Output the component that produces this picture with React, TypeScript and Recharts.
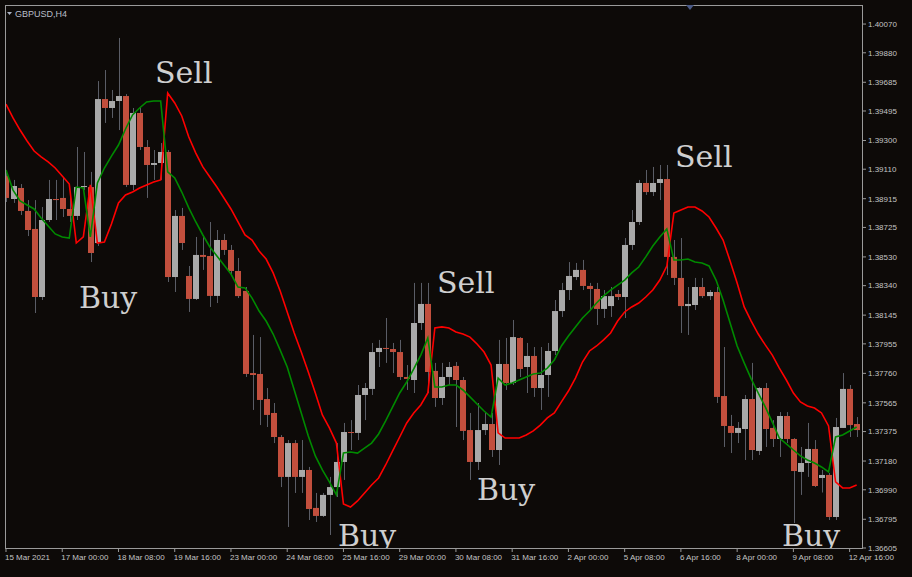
import React from "react";
import { ComposedChart, Bar, Line, XAxis, YAxis } from "recharts";

// GBPUSD H4, one entry per bar
const opens = [
  1.39065, 1.38913, 1.38986, 1.38834, 1.38715, 1.38265, 1.38774, 1.38913, 1.3892, 1.38847,
  1.38801, 1.38992, 1.38992, 1.38622, 1.39574, 1.39515, 1.39561, 1.39594, 1.39006, 1.39482,
  1.39257, 1.39138, 1.39151, 1.39224, 1.38397, 1.38801, 1.38404, 1.38252, 1.38543, 1.38536,
  1.38272, 1.38642, 1.38576, 1.38437, 1.38305, 1.37762, 1.37756, 1.3759, 1.37498, 1.37339,
  1.37075, 1.37299, 1.37075, 1.37121, 1.3687, 1.36817, 1.36956, 1.37008, 1.37174, 1.37372,
  1.37366, 1.37617, 1.37657, 1.37901, 1.37928, 1.37921, 1.37901, 1.37736, 1.37716, 1.38093,
  1.38219, 1.37776, 1.37597, 1.37736, 1.37809, 1.37716, 1.37385, 1.37174, 1.37385, 1.37425,
  1.37253, 1.37822, 1.37696, 1.37994, 1.37802, 1.37875, 1.37663, 1.37749, 1.37908, 1.38172,
  1.38311, 1.38397, 1.38444, 1.38338, 1.38318, 1.38186, 1.38205, 1.38285, 1.38265, 1.38609,
  1.38761, 1.39019, 1.38959, 1.39019, 1.39045, 1.3853, 1.38391, 1.38205, 1.38212, 1.38331,
  1.38271, 1.38298, 1.3761, 1.37412, 1.37366, 1.37392, 1.3759, 1.37247, 1.37663, 1.37399,
  1.37326, 1.37478, 1.37326, 1.37108, 1.37167, 1.3726, 1.37068, 1.37088, 1.3681, 1.37399,
  1.37657, 1.37425,
];
const highs = [
  1.39105, 1.39039, 1.39012, 1.38906, 1.38906, 1.3886, 1.39039, 1.39039, 1.39052, 1.38953,
  1.39257, 1.39224, 1.39092, 1.39693, 1.39766, 1.39634, 1.39978, 1.39607, 1.39515, 1.39521,
  1.39303, 1.39237, 1.39283, 1.39237, 1.3884, 1.38854, 1.3847, 1.38662, 1.38662, 1.38761,
  1.38708, 1.38682, 1.38609, 1.38523, 1.38331, 1.38014, 1.38, 1.37663, 1.37564, 1.37352,
  1.37319, 1.37319, 1.37319, 1.37141, 1.36969, 1.36969, 1.37075, 1.37299, 1.37432, 1.37451,
  1.37683, 1.37696, 1.37961, 1.37981, 1.38126, 1.37961, 1.37981, 1.37815, 1.38358, 1.38358,
  1.38358, 1.37829, 1.37829, 1.37835, 1.37835, 1.37736, 1.37498, 1.37564, 1.37498, 1.37498,
  1.37981, 1.37994, 1.38113, 1.38, 1.37961, 1.37934, 1.37934, 1.37961, 1.38245, 1.38358,
  1.38496, 1.3849, 1.3851, 1.38358, 1.38358, 1.38311, 1.38331, 1.38311, 1.38655, 1.3884,
  1.39039, 1.39105, 1.39125, 1.39138, 1.39138, 1.38642, 1.38655, 1.38331, 1.38391, 1.38391,
  1.38311, 1.38331, 1.37934, 1.37485, 1.37438, 1.37617, 1.37829, 1.3767, 1.37696, 1.37451,
  1.37504, 1.37504, 1.37332, 1.37273, 1.37432, 1.37319, 1.37121, 1.37101, 1.37465, 1.37762,
  1.37683, 1.37471,
];
const lows = [
  1.38893, 1.38887, 1.38807, 1.38668, 1.38159, 1.38245, 1.38761, 1.38774, 1.38794, 1.38761,
  1.38774, 1.38972, 1.38496, 1.38602, 1.39416, 1.39449, 1.39369, 1.38992, 1.38972, 1.39237,
  1.3892, 1.39039, 1.39039, 1.38364, 1.38298, 1.38576, 1.38166, 1.38245, 1.38444, 1.38199,
  1.38225, 1.38543, 1.3841, 1.38258, 1.37736, 1.37518, 1.37418, 1.37405, 1.37299, 1.37008,
  1.36744, 1.36969, 1.36969, 1.3679, 1.36777, 1.3681, 1.36691, 1.36942, 1.37055, 1.37253,
  1.37319, 1.37451, 1.37617, 1.37802, 1.37829, 1.37762, 1.37716, 1.3765, 1.3763, 1.38047,
  1.3763, 1.37538, 1.37551, 1.37683, 1.37405, 1.37319, 1.37055, 1.37121, 1.37352, 1.37207,
  1.37154, 1.3765, 1.37683, 1.37736, 1.3763, 1.37604, 1.37518, 1.37604, 1.37881, 1.38133,
  1.38245, 1.38377, 1.38311, 1.38179, 1.3808, 1.38126, 1.38133, 1.38245, 1.38126, 1.38576,
  1.38741, 1.3894, 1.38933, 1.38906, 1.3841, 1.38344, 1.38027, 1.38014, 1.38179, 1.38258,
  1.38245, 1.37564, 1.37273, 1.37233, 1.37299, 1.37187, 1.37187, 1.3722, 1.37273, 1.37273,
  1.37207, 1.37299, 1.3677, 1.36956, 1.37075, 1.37008, 1.36972, 1.3679, 1.3679, 1.37399,
  1.37339, 1.37339,
];
const closes = [
  1.3892, 1.38999, 1.38834, 1.38708, 1.38265, 1.38774, 1.38913, 1.38906, 1.38847, 1.38801,
  1.38992, 1.38999, 1.38556, 1.39574, 1.39515, 1.39561, 1.39594, 1.39006, 1.39482, 1.39257,
  1.39138, 1.39151, 1.39224, 1.38397, 1.38801, 1.38622, 1.38252, 1.38543, 1.3853, 1.38272,
  1.38642, 1.38576, 1.38437, 1.38271, 1.37756, 1.37749, 1.37584, 1.37485, 1.37339, 1.37075,
  1.37299, 1.37075, 1.37121, 1.36863, 1.36817, 1.36956, 1.37008, 1.37174, 1.37372, 1.37366,
  1.37617, 1.37663, 1.37901, 1.37928, 1.37921, 1.37901, 1.37736, 1.37723, 1.38093, 1.38219,
  1.37769, 1.37597, 1.37736, 1.37802, 1.37716, 1.37379, 1.37174, 1.37385, 1.37425, 1.37253,
  1.37822, 1.37696, 1.38, 1.37789, 1.37875, 1.37663, 1.37749, 1.37908, 1.38172, 1.38311,
  1.38404, 1.38444, 1.38338, 1.38318, 1.38186, 1.38271, 1.38271, 1.38265, 1.38609, 1.38761,
  1.39019, 1.38959, 1.39019, 1.39045, 1.3853, 1.38391, 1.38205, 1.38219, 1.38331, 1.38271,
  1.38298, 1.37604, 1.37412, 1.37366, 1.37399, 1.3759, 1.37253, 1.37663, 1.37392, 1.37326,
  1.37478, 1.37326, 1.37114, 1.37167, 1.3726, 1.37015, 1.37088, 1.3681, 1.37405, 1.37657,
  1.37418, 1.37385,
];

// red trailing band (flips above/below price)
const trailLine = [
  1.39541, 1.39449, 1.39369, 1.39297, 1.3923, 1.39191, 1.39158, 1.39118, 1.39065, 1.39012,
  1.38622, 1.38662, 1.39006, 1.38622, 1.38629, 1.38748, 1.38887, 1.3894, 1.38959, 1.38986,
  1.39006, 1.39025, 1.39039, 1.39614, 1.39548, 1.39462, 1.39323, 1.39217, 1.39125, 1.39058,
  1.38992, 1.3892, 1.38847, 1.38761, 1.38675, 1.38642, 1.38569, 1.38516, 1.38424, 1.38305,
  1.38166, 1.38027, 1.37901, 1.37769, 1.3763, 1.37485, 1.37399, 1.37299, 1.36896, 1.36876,
  1.36916, 1.36969, 1.37022, 1.37068, 1.37154, 1.37247, 1.37339, 1.37432, 1.37498, 1.37551,
  1.3763, 1.3806, 1.38067, 1.3806, 1.38034, 1.3802, 1.38, 1.37954, 1.37901, 1.37815,
  1.37366, 1.37332, 1.37332, 1.37332, 1.37352, 1.37379, 1.37418, 1.37465, 1.37498, 1.37571,
  1.37643, 1.37729, 1.37835, 1.37908, 1.37941, 1.37981, 1.38027, 1.38106, 1.38166, 1.38199,
  1.38225, 1.38265, 1.38311, 1.38377, 1.3847, 1.3882, 1.3884, 1.3886, 1.3886, 1.38834,
  1.38794, 1.38721, 1.38642, 1.38503, 1.38358, 1.38199, 1.38106, 1.3802, 1.37948, 1.37881,
  1.37795, 1.37716, 1.3763, 1.37571, 1.37544, 1.37531, 1.37498, 1.37412, 1.37042, 1.37002,
  1.37002, 1.37022,
];

// green moving average
const maLine = [
  1.39105, 1.38972, 1.389, 1.38873, 1.38847, 1.38787, 1.38735, 1.38682, 1.38662, 1.38655,
  1.38992, 1.38986, 1.38662, 1.39019, 1.39118, 1.39197, 1.3927, 1.39376, 1.39469, 1.39515,
  1.39555, 1.39561, 1.39561, 1.39092, 1.39052, 1.38959, 1.38854, 1.38761, 1.38675, 1.38596,
  1.38536, 1.38477, 1.38417, 1.38331, 1.38325, 1.38258, 1.38172, 1.38106, 1.3802, 1.37914,
  1.37802, 1.3765, 1.37498, 1.37346, 1.37214, 1.37121, 1.37042, 1.36956, 1.37233, 1.3724,
  1.37233, 1.37266, 1.37299, 1.37359, 1.37445, 1.37538, 1.3763, 1.37703, 1.37789, 1.37881,
  1.37994, 1.3767, 1.3767, 1.37683, 1.37683, 1.3765, 1.37604, 1.37557, 1.37511, 1.37471,
  1.37729, 1.37683, 1.37696, 1.37716, 1.37736, 1.37756, 1.37762, 1.37795, 1.37848, 1.37941,
  1.38007, 1.38067, 1.38126, 1.38172, 1.38225, 1.38272, 1.38311, 1.38344, 1.38377, 1.38424,
  1.38463, 1.3853, 1.38602, 1.38662, 1.38715, 1.3851, 1.3851, 1.38516, 1.38496, 1.3849,
  1.3847, 1.38377, 1.38245, 1.38093, 1.37941, 1.37829, 1.37723, 1.3763, 1.37538, 1.37438,
  1.37332, 1.37293, 1.37253, 1.37214, 1.37187, 1.37167, 1.37141, 1.37108, 1.37339, 1.37352,
  1.37379, 1.37405,
];

const xTickBars = [0, 8, 16, 24, 32, 40, 48, 56, 64, 72, 80, 88, 96, 104, 112, 120];
const xTickLabels = [
  "15 Mar 2021", "17 Mar 00:00", "18 Mar 08:00", "19 Mar 16:00", "23 Mar 00:00",
  "24 Mar 08:00", "25 Mar 16:00", "29 Mar 00:00", "30 Mar 08:00", "31 Mar 16:00",
  "2 Apr 00:00", "5 Apr 08:00", "6 Apr 16:00", "8 Apr 00:00", "9 Apr 08:00", "12 Apr 16:00",
];
const yTicks = [
  1.36605, 1.36795, 1.3699, 1.3718, 1.37375, 1.37565, 1.3776, 1.37955, 1.38145, 1.3834,
  1.3853, 1.38725, 1.38915, 1.3911, 1.393, 1.39495, 1.39685, 1.3988, 1.4007,
];

// annotations drawn on the plot (pixel positions of the text baseline)
const signals = [
  { text: "Sell", x: 155, y: 83 },
  { text: "Buy", x: 79, y: 308 },
  { text: "Sell", x: 437, y: 293 },
  { text: "Buy", x: 477, y: 500 },
  { text: "Sell", x: 675, y: 167 },
  { text: "Buy", x: 338, y: 546 },
  { text: "Buy", x: 782, y: 546 },
];

const BG = "#0d0a08";
const BULL = "#a9a9a9";
const BEAR = "#c24f3d";
const WICK = "#5a5d66";
const FRAME = "#9a9a9a";
const AXIS_TEXT = "#c4c4c4";

const data = opens.map((o, i) => ({
  i,
  o,
  h: highs[i],
  l: lows[i],
  c: closes[i],
  range: [lows[i], highs[i]],
  trail: trailLine[i],
  ma: maLine[i],
}));

function Candle(props: any) {
  const { x, y, width, height, payload } = props;
  if (!payload || height == null) return null;
  const { o, h, l, c } = payload;
  const span = h - l || 1e-9;
  const toY = (p: number) => y + ((h - p) / span) * height;
  const cx = Math.round(x + width / 2) + 0.5;
  const top = toY(Math.max(o, c));
  const bot = toY(Math.min(o, c));
  return (
    <g>
      <line x1={cx} x2={cx} y1={y} y2={y + height} stroke={WICK} strokeWidth={1} />
      <rect
        x={Math.round(x)}
        y={top}
        width={width}
        height={Math.max(1, bot - top)}
        fill={c >= o ? BULL : BEAR}
      />
    </g>
  );
}

function TimeTick(props: any) {
  const { x, y, payload } = props;
  const idx = xTickBars.indexOf(payload.value);
  return (
    <text
      x={x - 1}
      y={y}
      dy="0.75em"
      fill={AXIS_TEXT}
      fontSize={8}
      fontFamily="Liberation Sans, Arial, sans-serif"
      textAnchor="start"
    >
      {idx >= 0 ? xTickLabels[idx] : ""}
    </text>
  );
}

export default function App() {
  return (
    <div style={{ position: "absolute", left: 0, top: 0, width: 912, height: 577, background: BG, overflow: "hidden" }}>
      <ComposedChart
        width={912}
        height={577}
        data={data}
        margin={{ top: 5, right: 0, bottom: 0, left: 5 }}
      >
        <XAxis
          dataKey="i"
          type="number"
          domain={[-0.142, 121.76]}
          allowDataOverflow
          ticks={xTickBars}
          interval={0}
          height={29}
          axisLine={false}
          tickLine={{ stroke: FRAME }}
          tickSize={4}
          tick={<TimeTick />}
        />
        <YAxis
          orientation="right"
          type="number"
          domain={[1.36605, 1.40196]}
          allowDataOverflow
          ticks={yTicks}
          interval={0}
          width={50}
          axisLine={false}
          tickLine={{ stroke: FRAME }}
          tickSize={4}
          tickMargin={2}
          tickFormatter={(v: number) => v.toFixed(5)}
          tick={{ fill: AXIS_TEXT, fontSize: 8, fontFamily: "Liberation Sans, Arial, sans-serif" }}
        />
        <Bar dataKey="range" barSize={6} shape={<Candle />} isAnimationActive={false} />
        <Line
          dataKey="trail"
          type="linear"
          stroke="#ff0000"
          strokeWidth={1.6}
          dot={false}
          activeDot={false}
          isAnimationActive={false}
        />
        <Line
          dataKey="ma"
          type="linear"
          stroke="#008a00"
          strokeWidth={1.6}
          dot={false}
          activeDot={false}
          isAnimationActive={false}
        />
      </ComposedChart>

      {/* plot frame */}
      <div
        style={{
          position: "absolute",
          left: 5,
          top: 5,
          width: 858,
          height: 544,
          border: `1px solid ${FRAME}`,
          boxSizing: "border-box",
          pointerEvents: "none",
        }}
      />

      {/* symbol caption and signal labels */}
      <svg
        width={857}
        height={543}
        style={{ position: "absolute", left: 5, top: 5, overflow: "hidden", pointerEvents: "none" }}
      >
        <g transform="translate(-5,-5)">
          <polygon points="7,12 12,12 9.5,15" fill="#aab2c2" />
          <text x={15} y={17} fill="#b9bec8" fontSize={9} fontFamily="Liberation Sans, Arial, sans-serif">
            GBPUSD,H4
          </text>
          <polygon points="686,5 694,5 690,10" fill="#4b5a86" />
          {signals.map((s, k) => (
            <text key={k} x={s.x} y={s.y} fill="#cfcfcf" fontSize={30} fontFamily="DejaVu Serif, serif">
              {s.text}
            </text>
          ))}
        </g>
      </svg>
    </div>
  );
}
